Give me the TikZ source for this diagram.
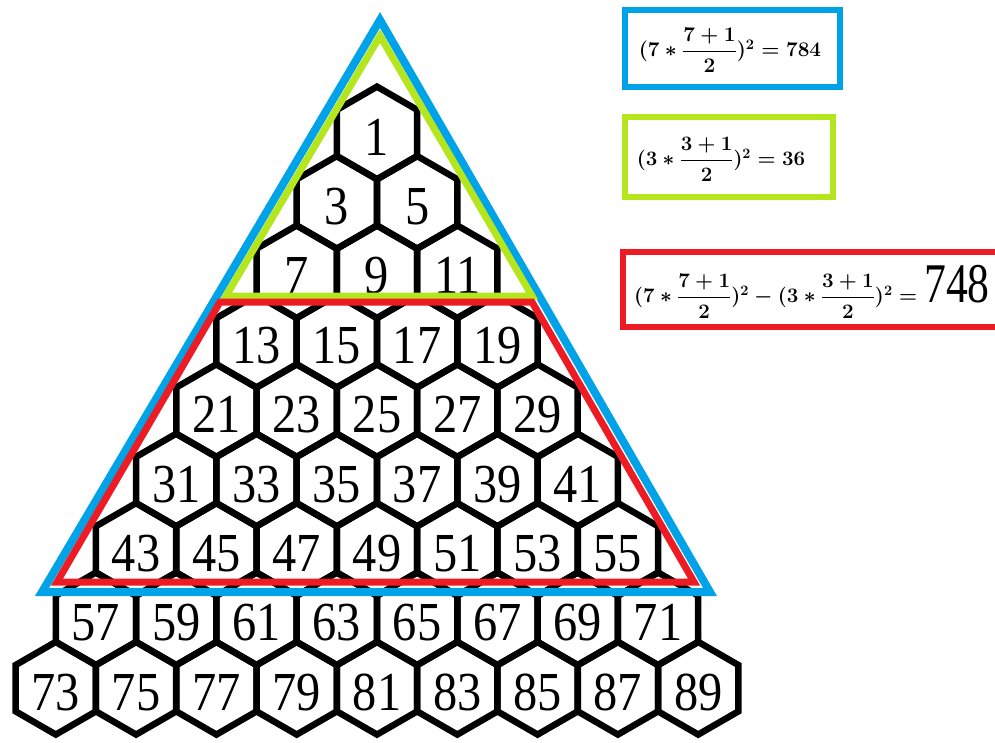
\RequirePackage{fix-cm}
\documentclass[tikz,border=0pt]{standalone}
\usepackage{amsmath}
\usepackage{fontspec}
\setmainfont{Liberation Serif}
\usepackage{graphicx}
\usetikzlibrary{shapes.geometric}

\definecolor{paintblue}{RGB}{0,162,232}
\definecolor{paintgreen}{RGB}{181,230,29}
\definecolor{paintred}{RGB}{237,28,36}

\newcommand{\cislo}[1]{\scalebox{0.88}[1]{\fontsize{55}{60}\selectfont #1}}
\newcommand{\vzorec}[2]{{\fontsize{#1}{#1}\selectfont\boldmath #2}}

\tikzset{
    hexa/.style={regular polygon, regular polygon sides=6, shape border rotate=30,
        draw=black, line width=6.5pt, minimum size=92.7pt, inner sep=0pt,
        text height=44pt, text depth=0pt},
    ramec/.style={line width=6pt},
}

\begin{document}
\begin{tikzpicture}[x=1pt, y=-1pt]
        \useasboundingbox (0,0) rectangle (995,742);
        \clip (0,0) rectangle (995,742);

        % šestiúhelníky s lichými čísly
        \foreach \r in {1,...,9} {
            \foreach \c in {1,...,\r} {
                \pgfmathtruncatemacro{\n}{\r*(\r-1)+2*\c-1}
                \node[hexa] (h\n) at ({377+(\c-1)*80.3-(\r-1)*40.15},{133+(\r-1)*69.4}) {\cislo{\n}};
            }
        }

        % velký trojúhelník
        \draw[paintblue, line width=8pt] (380,20) coordinate (mA)
        -- (42,592) coordinate (mB)
        -- (710,592) coordinate (mC)
        -- cycle;

        % malý trojúhelník
        \draw[paintgreen, line width=7pt] (380,36) coordinate (zA)
        -- (226,296) coordinate (zB)
        -- (532,296) coordinate (zC)
        -- cycle;

        % lichoběžník (rozdíl)
        \draw[paintred, line width=7pt] (220,302) coordinate (cA)
        -- (57,582) coordinate (cB)
        -- (694,582) coordinate (cC)
        -- (532,302) coordinate (cD)
        -- cycle;

        % vzorce
        \draw[ramec, paintblue] (625,10) rectangle (840,87);
        \node (vzA) at (730,50) {\vzorec{20.8}{$(7\ast\dfrac{7+1}{2})^2=784$}};

        \draw[ramec, paintgreen] (625,117) rectangle (833,197);
        \node (vzB) at (721,159) {\vzorec{20.5}{$(3\ast\dfrac{3+1}{2})^2=36$}};

        \draw[ramec, paintred] (623,252) rectangle (1010,327);
        \node[anchor=west, inner sep=0pt] (vzC) at (634,292) {\vzorec{20.6}{$(7\ast\dfrac{7+1}{2})^2-(3\ast\dfrac{3+1}{2})^2=$}\hspace{7pt}\scalebox{0.78}[1]{\fontsize{56}{60}\selectfont 748}};

    \end{tikzpicture}
\end{document}
